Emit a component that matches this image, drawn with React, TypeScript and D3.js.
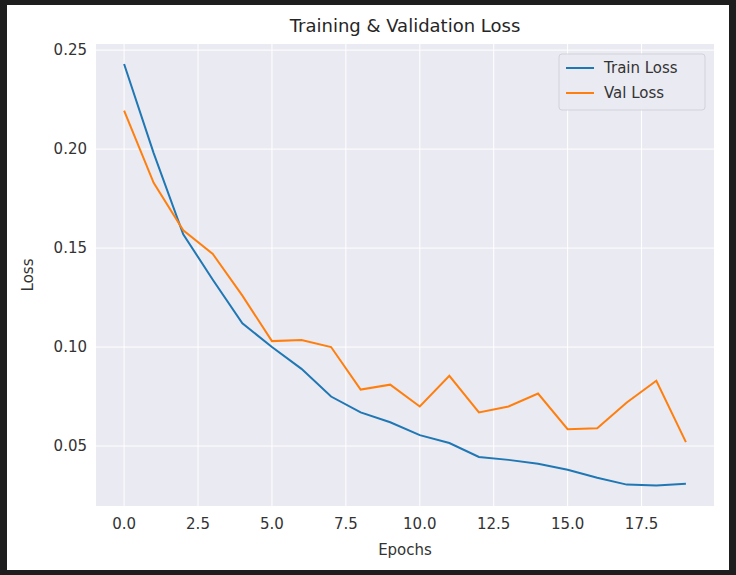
import React from 'react';
import * as d3 from 'd3';

const epochs = d3.range(20);
const trainLoss = [0.243, 0.198, 0.157, 0.134, 0.112, 0.1, 0.089, 0.075, 0.067, 0.062, 0.0555, 0.0515, 0.0445, 0.043, 0.041, 0.038, 0.034, 0.0305, 0.030, 0.031];
const valLoss = [0.2195, 0.183, 0.159, 0.147, 0.126, 0.103, 0.1035, 0.1, 0.0785, 0.081, 0.07, 0.0855, 0.067, 0.07, 0.0765, 0.0585, 0.059, 0.072, 0.083, 0.052];
const xTicks = [0, 2.5, 5, 7.5, 10, 12.5, 15, 17.5];
const yTicks = [0.05, 0.1, 0.15, 0.2, 0.25];
const series = [
  { name: 'Train Loss', values: trainLoss, color: '#1f77b4' },
  { name: 'Val Loss', values: valLoss, color: '#ff7f0e' },
];

export default function App() {
  const W = 736, H = 575;
  const left = 96, right = 714, top = 44, bottom = 506;
  const x = d3.scaleLinear().domain([-0.95, 19.95]).range([left, right]);
  const y = d3.scaleLinear().domain([0.0197, 0.2531]).range([bottom, top]);
  const line = d3.line<number>().x((_, i) => x(epochs[i])).y(d => y(d));
  const font = 'DejaVu Sans, sans-serif';
  return (
    <svg width={W} height={H} style={{ position: 'absolute', left: 0, top: 0, fontFamily: font }}>
      <rect width={W} height={H} fill="#1e1e1e" />
      <rect x={7} y={5} width={722} height={565} fill="#fff" />
      <rect x={left} y={top} width={right - left} height={bottom - top} fill="#eaeaf2" />
      {xTicks.map(t => (
        <g key={t}>
          <line x1={x(t)} x2={x(t)} y1={top} y2={bottom} stroke="#fff" strokeWidth={1} />
          <text x={x(t)} y={bottom + 23} textAnchor="middle" fontSize={15} fill="#333">{t.toFixed(1)}</text>
        </g>
      ))}
      {yTicks.map(t => (
        <g key={t}>
          <line x1={left} x2={right} y1={y(t)} y2={y(t)} stroke="#fff" strokeWidth={1} />
          <text x={left - 9} y={y(t) + 5} textAnchor="end" fontSize={15} fill="#333">{t.toFixed(2)}</text>
        </g>
      ))}
      {series.map(s => (
        <path key={s.name} d={line(s.values) ?? ''} fill="none" stroke={s.color} strokeWidth={2} />
      ))}
      <text x={(left + right) / 2} y={32} textAnchor="middle" fontSize={18} fill="#262626">Training &amp; Validation Loss</text>
      <text x={(left + right) / 2} y={555} textAnchor="middle" fontSize={15} fill="#333">Epochs</text>
      <text transform={`translate(33,${(top + bottom) / 2}) rotate(-90)`} textAnchor="middle" fontSize={15} fill="#333">Loss</text>
      <g transform="translate(559,54)">
        <rect width={146} height={56} rx={3} fill="#eaeaf2" stroke="#d0d0d8" opacity={0.9} />
        {series.map((s, i) => (
          <g key={s.name} transform={`translate(0,${14 + i * 25})`}>
            <line x1={7} x2={35} y1={0} y2={0} stroke={s.color} strokeWidth={2} />
            <text x={45} y={5} fontSize={15} fill="#333">{s.name}</text>
          </g>
        ))}
      </g>
    </svg>
  );
}
